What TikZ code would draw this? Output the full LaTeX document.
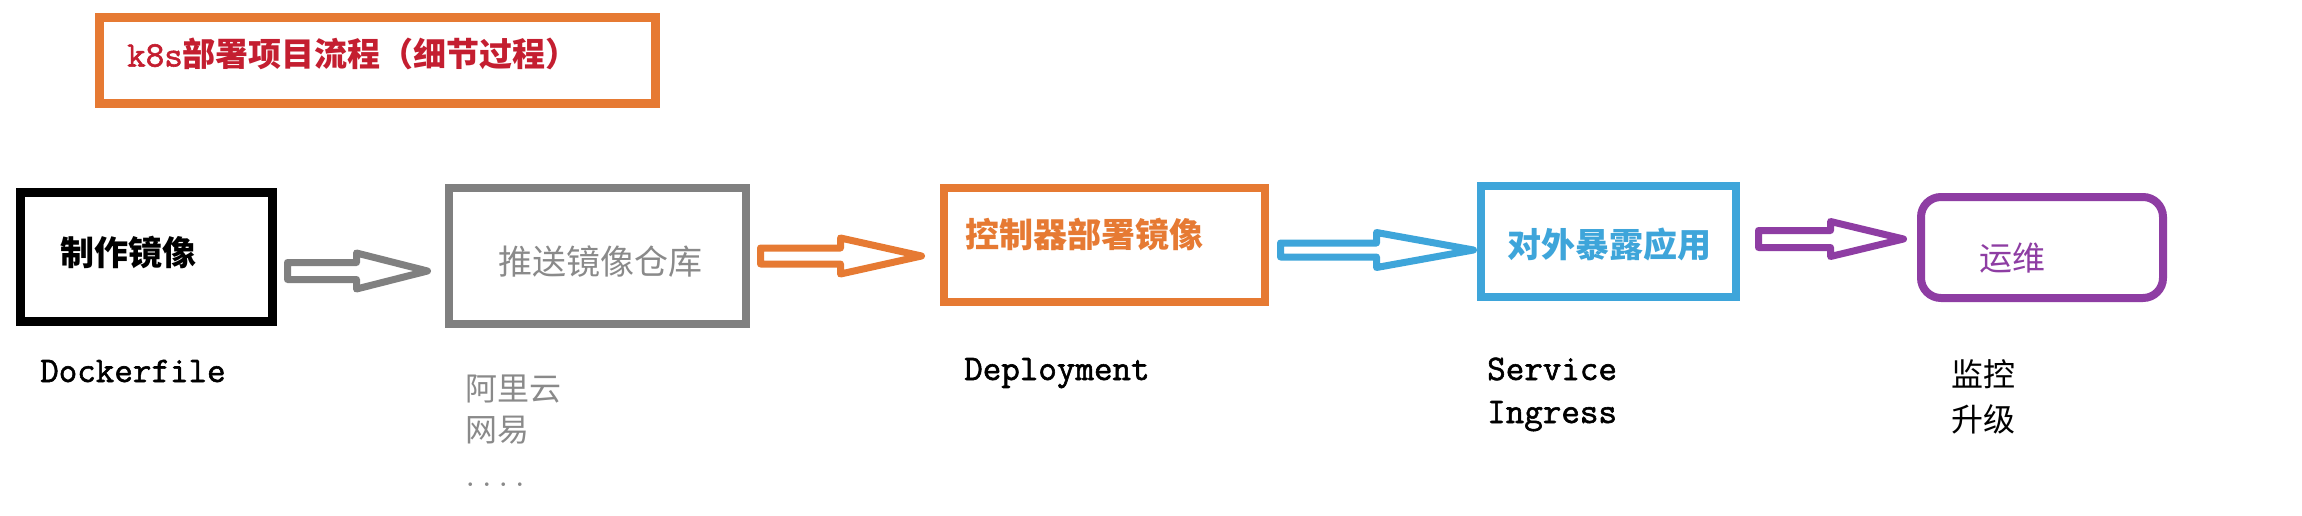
\documentclass[tikz,border=0pt]{standalone}
\usepackage{fontspec}
\newfontfamily\cjk{Noto Sans CJK SC}
\newfontfamily\monob{Latin Modern Mono}[FakeBold=1.6]
\usetikzlibrary{calc}
\definecolor{titlered}{HTML}{C41E30}
\definecolor{orng}{HTML}{E67A33}
\definecolor{gry}{HTML}{808080}
\definecolor{gtxt}{HTML}{8A8A8A}
\definecolor{blu}{HTML}{3EA5DA}
\definecolor{purp}{HTML}{8E3DA3}
\newcommand\blockarr[6]{%
  \draw[#1] ($(#2)+(3.5,-#5+3.5)$) -- ($(#3)+(-#4+3.5,-#5+3.5)$)
    -- ($(#3)+(-#4+3.5,-#6+3.5)$) -- ($(#3)+(-3.5,0)$)
    -- ($(#3)+(-#4+3.5,#6-3.5)$) -- ($(#3)+(-#4+3.5,#5-3.5)$)
    -- ($(#2)+(3.5,#5-3.5)$) -- cycle;}
\begin{document}
\begin{tikzpicture}[x=1pt,y=-1pt,
  box/.style={draw, line width=8pt, inner sep=0pt, fill=white},
  barrow/.style={line width=7pt, line join=round, fill=white},
  boxtext/.style={inner sep=0pt, font=\cjk\fontsize{34}{40}\selectfont},
  cjklabel/.style={inner sep=0pt, anchor=west, font=\cjk\fontsize{32}{38}\selectfont},
  monolabel/.style={inner sep=0pt, anchor=base west, font=\monob\fontsize{36}{40}\selectfont}]
\useasboundingbox (0,0) rectangle (2302,516);
\fill[white] (0,0) rectangle (2302,516);

% title
\node[box, draw=orng, line width=9pt, minimum width=556pt, minimum height=86pt] (titlebox) at (377.5,60.5) {};
\node[inner sep=0pt, anchor=west, text=titlered] (title) at (127,54)
  {{\monob\fontsize{36}{40}\selectfont k8s}{\cjk\bfseries\fontsize{33}{40}\selectfont 部署项目流程（细节过程）}};

% boxes
\node[box, draw=black, line width=9pt, minimum width=252pt, minimum height=129pt] (b1) at (146.5,257) {};
\node[box, draw=gry, minimum width=297pt, minimum height=136pt] (b2) at (597.5,256) {};
\node[box, draw=orng, minimum width=321pt, minimum height=114pt] (b3) at (1104.5,245) {};
\node[box, draw=blu, minimum width=255pt, minimum height=111pt] (b4) at (1608.5,241.5) {};
\node[box, draw=purp, rounded corners=20pt, minimum width=242pt, minimum height=101pt] (b5) at (2042,247.5) {};

% box texts
\node[boxtext, text=black, font=\cjk\bfseries\fontsize{34}{40}\selectfont] (t1) at (128,252) {制作镜像};
\node[boxtext, text=gtxt] (t2) at (600,262) {推送镜像仓库};
\node[boxtext, text=orng, font=\cjk\bfseries\fontsize{34}{40}\selectfont] (t3) at (1084,234) {控制器部署镜像};
\node[boxtext, text=blu, font=\cjk\bfseries\fontsize{34}{40}\selectfont] (t4) at (1609,245) {对外暴露应用};
\node[boxtext, text=purp, font=\cjk\fontsize{33}{40}\selectfont] (t5) at (2012,258) {运维};

% arrows
\coordinate (a1s) at (284,271); \coordinate (a1t) at (431,271);
\coordinate (a2s) at (757,256); \coordinate (a2t) at (925,256);
\coordinate (a3s) at (1277,250); \coordinate (a3t) at (1477,250);
\coordinate (a4s) at (1755,239); \coordinate (a4t) at (1907,239);
\blockarr{barrow, draw=gry}{a1s}{a1t}{78}{12}{21.5}
\blockarr{barrow, draw=orng}{a2s}{a2t}{88}{11.5}{21.5}
\blockarr{barrow, draw=blu}{a3s}{a3t}{104}{10.5}{21}
\blockarr{barrow, draw=purp}{a4s}{a4t}{80}{12}{21}

% labels below
\node[monolabel] (l1) at (40,382) {Dockerfile};
\node[cjklabel, text=gtxt] (l2a) at (465,389) {阿里云};
\node[cjklabel, text=gtxt] (l2b) at (465,430) {网易};
\node[monolabel, text=gtxt, font=\ttfamily\fontsize{32}{36}\selectfont] (l2c) at (462,486) {....};
\node[monolabel] (l3) at (964,380) {Deployment};
\node[monolabel] (l4a) at (1487,380) {Service};
\node[monolabel] (l4b) at (1487,423) {Ingress};
\node[cjklabel] (l5a) at (1951,374) {监控};
\node[cjklabel] (l5b) at (1951,419) {升级};
\end{tikzpicture}
\end{document}
